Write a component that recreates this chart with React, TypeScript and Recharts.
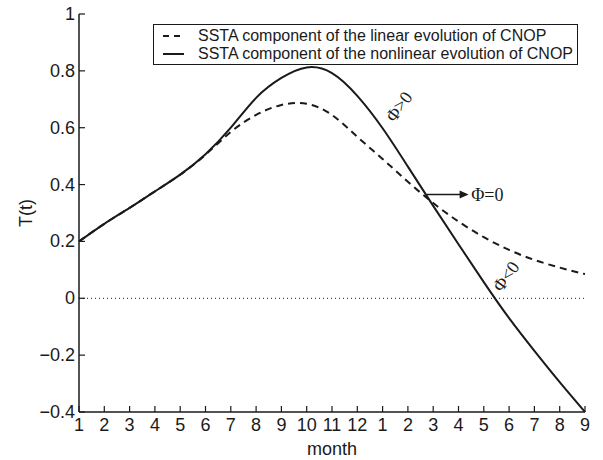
import React from 'react';
import { LineChart, Line, XAxis, YAxis, ReferenceLine, ReferenceDot, Legend } from 'recharts';

// month labels along the x axis (two consecutive years)
const monthTicks = ['1', '2', '3', '4', '5', '6', '7', '8', '9', '10', '11', '12', '1', '2', '3', '4', '5', '6', '7', '8', '9'];

// SSTA component, linear evolution of CNOP (dashed)
const linearSsta = [0.2, 0.262, 0.318, 0.376, 0.435, 0.505, 0.585, 0.645, 0.68, 0.684, 0.645, 0.568, 0.49, 0.41, 0.335, 0.27, 0.215, 0.17, 0.135, 0.108, 0.085];

// SSTA component, nonlinear evolution of CNOP (solid)
const nonlinearSsta = [0.2, 0.262, 0.318, 0.376, 0.435, 0.507, 0.6, 0.705, 0.775, 0.812, 0.792, 0.712, 0.598, 0.463, 0.325, 0.19, 0.057, -0.07, -0.185, -0.295, -0.4];

const yTicks = [-0.4, -0.2, 0, 0.2, 0.4, 0.6, 0.8, 1];

const data = monthTicks.map((m, i) => ({
  step: i,
  month: m,
  linear: linearSsta[i],
  nonlinear: nonlinearSsta[i],
}));

const FONT = '"Liberation Sans", Arial, sans-serif';
const SERIF = '"Liberation Serif", "Times New Roman", serif';
const INK = '#1a1a1a';

const fmtY = (v: number) => (v < 0 ? '\u2212' + Math.abs(v) : String(v));

const BottomTick = (props: any) => {
  const { x, y, payload } = props;
  return (
    <g>
      <line x1={x} y1={y} x2={x} y2={y - 6} stroke={INK} strokeWidth={1.2} />
      <text x={x} y={y + 19} textAnchor="middle" fontSize={18} fontFamily={FONT} fill={INK}>
        {monthTicks[payload.value]}
      </text>
    </g>
  );
};

const TopTick = (props: any) => {
  const { x, y } = props;
  return <line x1={x} y1={y} x2={x} y2={y + 6} stroke={INK} strokeWidth={1.2} />;
};

const LeftTick = (props: any) => {
  const { x, y, payload } = props;
  return (
    <g>
      <line x1={x} y1={y} x2={x + 6} y2={y} stroke={INK} strokeWidth={1.2} />
      <text x={x - 4} y={y + 6} textAnchor="end" fontSize={18} fontFamily={FONT} fill={INK}>
        {fmtY(payload.value)}
      </text>
    </g>
  );
};

const RightTick = (props: any) => {
  const { x, y } = props;
  return <line x1={x} y1={y} x2={x - 6} y2={y} stroke={INK} strokeWidth={1.2} />;
};

const renderLegend = () => (
  <div
    style={{
      width: 425,
      height: 41,
      boxSizing: 'border-box',
      border: `1.5px solid ${INK}`,
      background: '#fff',
      fontFamily: FONT,
      fontSize: 16,
      color: INK,
      paddingTop: 2,
    }}
  >
    {[
      { label: 'SSTA component of the linear evolution of CNOP', dash: '6 5' },
      { label: 'SSTA component of the nonlinear evolution of CNOP', dash: undefined },
    ].map((item) => (
      <div key={item.label} style={{ height: 18, display: 'flex', alignItems: 'center', whiteSpace: 'nowrap' }}>
        <svg width={44} height={18} style={{ flex: 'none' }}>
          <line x1={9} y1={9} x2={30} y2={9} stroke={INK} strokeWidth={2} strokeDasharray={item.dash} />
        </svg>
        <span>{item.label}</span>
      </div>
    ))}
  </div>
);

const rotatedLabel = (text: string, angle: number) => (props: any) => {
  const { cx, cy } = props;
  return (
    <text
      x={cx}
      y={cy}
      textAnchor="middle"
      dominantBaseline="central"
      fontSize={18}
      fontFamily={SERIF}
      fill={INK}
      transform={`rotate(${angle} ${cx} ${cy})`}
    >
      {text}
    </text>
  );
};

const arrowHead = (props: any) => {
  const { cx, cy } = props;
  return <polygon points={`${cx},${cy} ${cx - 9},${cy - 4} ${cx - 9},${cy + 4}`} fill={INK} />;
};

const phiZeroLabel = (props: any) => {
  const { cx, cy } = props;
  return (
    <text x={cx} y={cy} dominantBaseline="central" fontSize={18} fontFamily={SERIF} fill={INK}>
      {'\u03A6=0'}
    </text>
  );
};

export default function App() {
  return (
    <div style={{ position: 'absolute', left: 0, top: 0, width: 603, height: 460, background: '#fff' }}>
      <LineChart width={603} height={460} data={data} margin={{ top: 14, right: 18, bottom: 0, left: 0 }}>
        <XAxis
          dataKey="step"
          type="number"
          domain={[0, 20]}
          ticks={data.map((d) => d.step)}
          interval={0}
          height={48}
          tickSize={0}
          tickMargin={0}
          tickLine={false}
          tick={<BottomTick />}
          axisLine={{ stroke: INK, strokeWidth: 1.5 }}
          label={{
            content: (p: any) => {
              const vb = p.viewBox;
              return (
                <text x={vb.x + vb.width / 2} y={455} textAnchor="middle" fontSize={18} fontFamily={FONT} fill={INK}>
                  month
                </text>
              );
            },
          }}
        />
        <XAxis
          xAxisId="top"
          dataKey="step"
          type="number"
          orientation="top"
          domain={[0, 20]}
          ticks={data.map((d) => d.step)}
          interval={0}
          height={0}
          tickSize={0}
          tickMargin={0}
          tickLine={false}
          tick={<TopTick />}
          axisLine={{ stroke: INK, strokeWidth: 1.5 }}
        />
        <YAxis
          type="number"
          domain={[-0.4, 1]}
          ticks={yTicks}
          interval={0}
          width={79}
          tickSize={0}
          tickMargin={0}
          tickLine={false}
          tick={<LeftTick />}
          axisLine={{ stroke: INK, strokeWidth: 1.5 }}
          label={{
            content: (p: any) => {
              const vb = p.viewBox;
              const cx = 26;
              const cy = vb.y + vb.height / 2;
              return (
                <text
                  x={cx}
                  y={cy}
                  textAnchor="middle"
                  dominantBaseline="central"
                  fontSize={18}
                  fontFamily={FONT}
                  fill={INK}
                  transform={`rotate(-90 ${cx} ${cy})`}
                >
                  T(t)
                </text>
              );
            },
          }}
        />
        <YAxis
          yAxisId="right"
          orientation="right"
          type="number"
          domain={[-0.4, 1]}
          ticks={yTicks}
          interval={0}
          width={0}
          tickSize={0}
          tickMargin={0}
          tickLine={false}
          tick={<RightTick />}
          axisLine={{ stroke: INK, strokeWidth: 1.5 }}
        />
        <ReferenceLine y={0} stroke={INK} strokeWidth={1} strokeDasharray="1 3" />
        <Line
          type="natural"
          dataKey="linear"
          stroke={INK}
          strokeWidth={2}
          strokeDasharray="7 5"
          dot={false}
          isAnimationActive={false}
        />
        <Line
          type="natural"
          dataKey="nonlinear"
          stroke={INK}
          strokeWidth={2}
          dot={false}
          isAnimationActive={false}
        />
        <ReferenceLine
          segment={[
            { x: 13.75, y: 0.365 },
            { x: 15.3, y: 0.365 },
          ]}
          stroke={INK}
          strokeWidth={1.3}
        />
        <ReferenceDot x={15.4} y={0.365} r={0} shape={arrowHead} />
        <ReferenceDot x={15.5} y={0.365} r={0} shape={phiZeroLabel} />
        <ReferenceDot x={12.65} y={0.674} r={0} shape={rotatedLabel('\u03A6>0', -54)} />
        <ReferenceDot x={16.88} y={0.077} r={0} shape={rotatedLabel('\u03A6<0', -54)} />
        <Legend
          layout="vertical"
          align="center"
          verticalAlign="middle"
          wrapperStyle={{ left: 153, top: 24, width: 425, height: 41 }}
          content={renderLegend}
        />
      </LineChart>
    </div>
  );
}
